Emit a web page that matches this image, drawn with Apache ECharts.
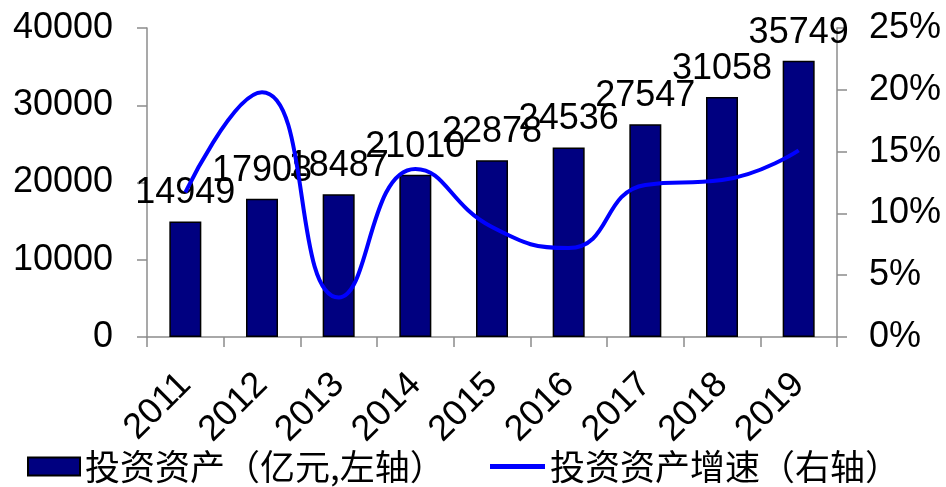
<!DOCTYPE html>
<html><head><meta charset="utf-8">
<script src="https://cdn.jsdelivr.net/npm/echarts@6/dist/echarts.min.js"></script>
<style>html,body{margin:0;padding:0;background:#fff}#c{width:946px;height:487px}</style>
</head><body><div id="c"></div>
<script>
const categories = ['2011','2012','2013','2014','2015','2016','2017','2018','2019'];
const assets = [14949,17908,18487,21010,22878,24536,27547,31058,35749];
const growth = [11.7,19.8,3.2,13.6,8.9,7.2,12.3,12.7,15.1];
const leftTicks = [0,10000,20000,30000,40000];
const rightTicks = [0,5,10,15,20,25];
const seriesNames = ['投资资产（亿元,左轴）','投资资产增速（右轴）'];

const chart = echarts.init(document.getElementById('c'));
const font = 'Liberation Sans, Arial, sans-serif';
const axisLine = {show:true, lineStyle:{color:'#8c8c8c', width:1.5}};
const tick = {show:true,length:10,lineStyle:{color:'#8c8c8c',width:1.5}};
const legendText = {fontSize:35,color:'#000',fontFamily:'Noto Sans CJK SC'};
chart.setOption({
  animation:false,
  grid:{left:147,right:109,top:28,bottom:150},
  legend:[{
    bottom:-2,left:22,itemWidth:52,itemHeight:18,itemGap:8,
    textStyle:legendText,
    data:[{name:seriesNames[0],icon:'rect'}]
  },{
    bottom:-2,left:485,itemWidth:55,itemHeight:5,itemGap:8,
    textStyle:legendText,
    data:[{name:seriesNames[1],icon:'rect'}]
  }],
  xAxis:{
    type:'category',data:categories,
    axisLine:axisLine,axisTick:tick,
    axisLabel:{rotate:45,fontSize:36,color:'#000',fontFamily:font,margin:42}
  },
  yAxis:[{
    type:'value',min:leftTicks[0],max:leftTicks[leftTicks.length-1],interval:10000,
    axisLine:axisLine,axisTick:tick,
    splitLine:{show:false},
    axisLabel:{fontSize:36,color:'#000',fontFamily:font,margin:34,formatter:v=>String(v)}
  },{
    type:'value',min:rightTicks[0],max:rightTicks[rightTicks.length-1],interval:5,
    axisLine:axisLine,axisTick:tick,
    splitLine:{show:false},
    axisLabel:{fontSize:36,color:'#000',fontFamily:font,margin:32,formatter:'{value}%'}
  }],
  series:[{
    name:seriesNames[0],type:'bar',data:assets,barWidth:32,
    itemStyle:{color:'#000080',borderColor:'#000',borderWidth:1.5},
    label:{show:true,position:'top',distance:10,fontSize:36,color:'#000',fontFamily:font},
    z:2
  },{
    name:seriesNames[1],type:'line',yAxisIndex:1,data:growth,smooth:0.5,
    showSymbol:false,symbol:'none',
    lineStyle:{color:'#0000FF',width:4},itemStyle:{color:'#0000FF'},
    z:3
  }]
});
</script></body></html>
